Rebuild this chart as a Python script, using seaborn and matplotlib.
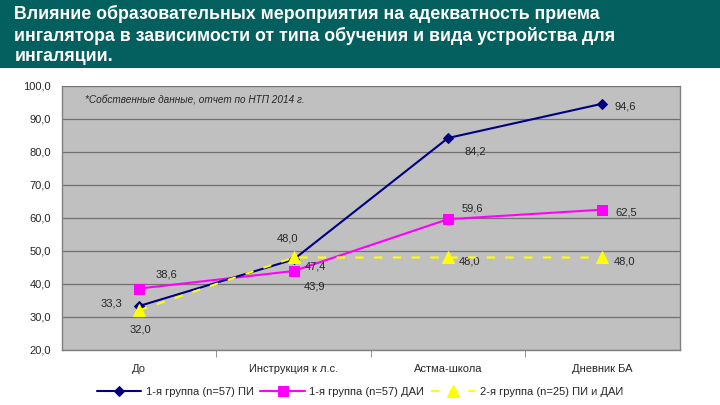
import matplotlib
matplotlib.use('Agg')
import matplotlib.pyplot as plt
import seaborn as sns
from matplotlib.patches import Rectangle
from matplotlib.ticker import FuncFormatter, FixedLocator

categories = ['До', 'Инструкция к л.с.', 'Астма-школа', 'Дневник БА']
group1_pi = [33.3, 47.4, 84.2, 94.6]
group1_dai = [38.6, 43.9, 59.6, 62.5]
group2_pi_dai = [32.0, 48.0, 48.0, 48.0]
series_names = ['1-я группа (n=57) ПИ', '1-я группа (n=57) ДАИ', '2-я группа (n=25) ПИ и ДАИ']

sns.set_style('white')
plt.rcParams['font.family'] = ['Liberation Sans', 'DejaVu Sans']

fig = plt.figure(figsize=(7.2, 4.05), dpi=100)
fig.patches.append(Rectangle((0, 0.832), 1, 0.168, transform=fig.transFigure,
                             facecolor='#03605F', edgecolor='none', zorder=0))
fig.text(0.02, 0.988, 'Влияние образовательных мероприятия на адекватность приема\n'
         'ингалятора в зависимости от типа обучения и вида устройства для\n'
         'ингаляции.', color='white', fontsize=12.8, fontweight='bold',
         va='top', ha='left', linespacing=1.27)

ax = fig.add_axes([0.086, 0.136, 0.858, 0.652])
ax.set_facecolor('#C0C0C0')

x = list(range(len(categories)))
sns.lineplot(x=x, y=group1_pi, ax=ax, color='#000080', marker='D', markersize=5,
             markeredgecolor='#000080', linewidth=1.5, label=series_names[0], zorder=4)
sns.lineplot(x=x, y=group1_dai, ax=ax, color='#FF00FF', marker='s', markersize=6.5,
             markeredgecolor='#FF00FF', linewidth=1.5, label=series_names[1], zorder=3)
sns.lineplot(x=x, y=group2_pi_dai, ax=ax, color='#FFFF00', marker='^', markersize=8,
             markeredgecolor='#FFFF00', linewidth=1.5, linestyle=(0, (4, 5)),
             label=series_names[2], zorder=5)

ax.set_xlim(-0.5, 3.5)
ax.set_ylim(20, 100)
ax.set_yticks(range(20, 101, 10))
ax.yaxis.set_major_formatter(FuncFormatter(lambda v, p: f'{v:.1f}'.replace('.', ',')))
ax.yaxis.grid(True, color='#707070', linewidth=0.9)
ax.set_axisbelow(True)
ax.set_xticks(x)
ax.set_xticklabels(categories, fontsize=8)
ax.xaxis.set_minor_locator(FixedLocator([0.5, 1.5, 2.5]))
ax.tick_params(axis='x', which='major', length=0, pad=10)
ax.tick_params(axis='x', which='minor', length=5, color='#808080', direction='out', bottom=True)
ax.tick_params(axis='y', labelsize=8, length=0, pad=8)
for side in ['left', 'bottom', 'right']:
    ax.spines[side].set_color('#808080')
    ax.spines[side].set_linewidth(1)
ax.spines['top'].set_visible(False)

def fmt(v):
    return f'{v:.1f}'.replace('.', ',')

pi_offsets = [(-28, 2), (8, -5), (12, -10), (9, -2)]
dai_offsets = [(12, 10), (7, -11), (10, 8), (9, -2)]
g2_offsets = [(-7, -14), (-12, 14), (8, -3), (8, -3)]
for i in x:
    ax.annotate(fmt(group1_pi[i]), (i, group1_pi[i]), xytext=pi_offsets[i],
                textcoords='offset points', fontsize=8, va='center')
    ax.annotate(fmt(group1_dai[i]), (i, group1_dai[i]), xytext=dai_offsets[i],
                textcoords='offset points', fontsize=8, va='center')
    ax.annotate(fmt(group2_pi_dai[i]), (i, group2_pi_dai[i]), xytext=g2_offsets[i],
                textcoords='offset points', fontsize=8, va='center')

ax.text(0.037, 0.95, '*Собственные данные, отчет по НТП 2014 г.', transform=ax.transAxes,
        fontsize=7.2, style='italic', va='center')

ax.get_legend().remove()
h, l = ax.get_legend_handles_labels()
fig.legend(h, l, loc='center', bbox_to_anchor=(0.5, 0.032), ncol=3, frameon=False,
           fontsize=8, handlelength=4, columnspacing=0.6, handletextpad=0.4)

fig.savefig('out.png', dpi=100)
